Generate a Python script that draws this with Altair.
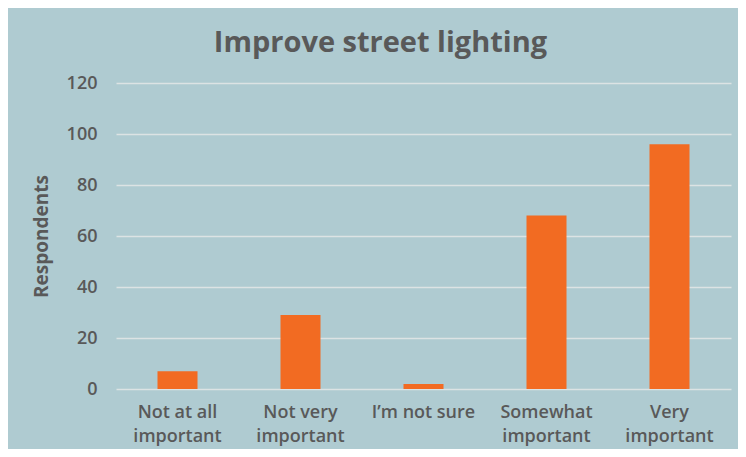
import altair as alt
import pandas as pd

categories = ["Not at all|important", "Not very|important", "I’m not sure", "Somewhat|important", "Very|important"]
respondents = [7, 29, 2, 68, 96]
y_ticks = [0, 20, 40, 60, 80, 100, 120]

df = pd.DataFrame({"category": categories, "respondents": respondents})

grey = "#595959"
font = "Open Sans"

chart = alt.Chart(df).mark_bar(color="#f26b22", size=40).encode(
    x=alt.X("category:N", sort=categories, title=None,
            scale=alt.Scale(paddingInner=0.675, paddingOuter=0.3375),
            axis=alt.Axis(labelExpr="split(datum.label, '|')", labelAngle=0,
                          labelFontSize=18, labelFont=font, labelFontWeight=600,
                          labelColor=grey, labelPadding=14, labelLineHeight=24,
                          labelBaseline="top", domain=False, ticks=False,
                          grid=False)),
    y=alt.Y("respondents:Q", title="Respondents",
            scale=alt.Scale(domain=[0, 120], nice=False),
            axis=alt.Axis(values=y_ticks, labelFontSize=18, labelFont=font,
                          labelFontWeight=600, labelColor=grey, labelPadding=19,
                          domain=False, ticks=False, gridColor="#dce3e4",
                          gridWidth=1.5, titleFont=font, titleFontSize=19,
                          titleFontWeight="bold", titleColor=grey, titlePadding=15)),
).properties(
    width=615, height=306,
    background="#afcbd1",
    padding={"left": 108, "top": 75, "right": 7, "bottom": 60},
    autosize=alt.AutoSizeParams(type="none"),
    title=alt.TitleParams("Improve street lighting", fontSize=29, font=font,
                          fontWeight="bold", color=grey, anchor="middle",
                          dx=-43, offset=16),
).configure_view(stroke=None)

chart.save("out.html", embed_options={"renderer": "svg", "actions": False})
